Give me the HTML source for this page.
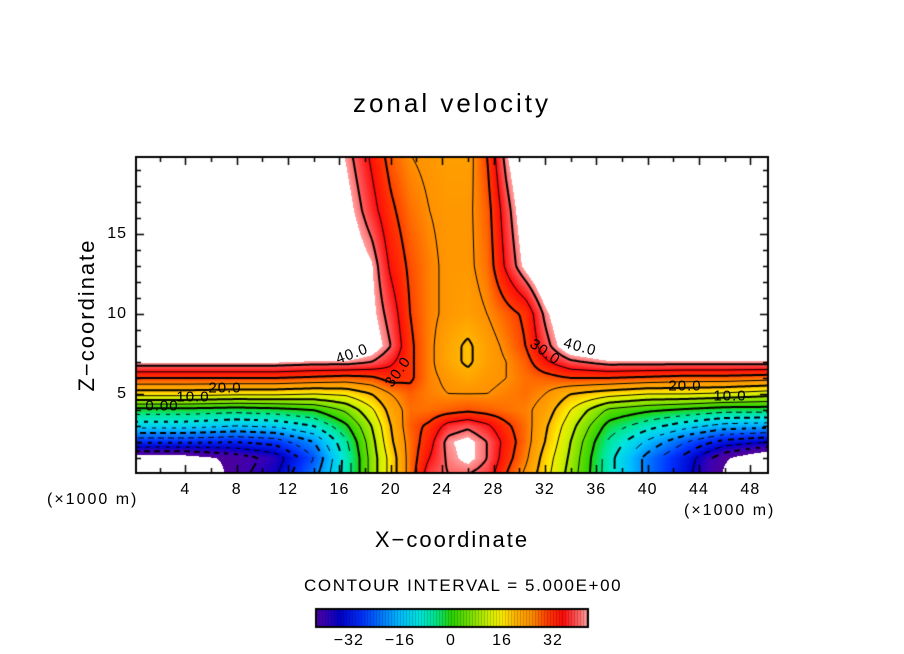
<!DOCTYPE html>
<html><head><meta charset="utf-8">
<style>
html,body{margin:0;padding:0;background:#fff;}
body{width:904px;height:654px;position:relative;overflow:hidden;font-family:"Liberation Sans",sans-serif;}
canvas{position:absolute;left:0;top:0;}
.t{position:absolute;color:#000;white-space:nowrap;}
</style></head>
<body>
<canvas id="cv" width="904" height="654"></canvas>
<div class="t" style="left:0;width:904px;text-align:center;top:88px;font-size:26px;letter-spacing:3px;">zonal velocity</div>
<div class="t" style="left:0;width:904px;text-align:center;top:527px;font-size:22px;letter-spacing:2px;">X−coordinate</div>
<div class="t" style="left:-14px;top:303px;width:200px;text-align:center;font-size:22px;letter-spacing:2px;transform:rotate(-90deg);transform-origin:100px 12px;">Z−coordinate</div>
<div class="t" style="left:47px;top:491px;font-size:16px;letter-spacing:2px;">(×1000 m)</div>
<div class="t" style="left:684px;top:502px;font-size:16px;letter-spacing:2px;">(×1000 m)</div>
<div class="t" style="left:304px;top:576px;font-size:17px;letter-spacing:1.6px;">CONTOUR INTERVAL = 5.000E+00</div>
<div id="labels"></div>
<script>
// ---- data ----
const xNodes = [0, 4, 8, 11, 14, 16.5, 18.5, 20, 21.5, 23, 24.5, 26, 27.5, 29, 30.5, 32, 34, 37, 40, 43, 46, 49.5];
const zNodes = [0, 1, 2, 3, 4, 5, 6, 7, 8, 10, 13, 16.5, 20];
const uZ0  = [-55,-55,-42,-36,-22,-8, 7,17,27,38,40,40,38,30,24,17, 8,-8,-22,-33,-46,-60];
const uZ1  = [-48,-48,-43,-38,-25,-8, 7,17,27,35,41,44,40,32,26,18, 9,-8,-22,-32,-44,-52];
const uZ2  = [-29,-29,-30,-28,-20,-6, 8,19,27,33,42,44,40,33,27,20,10,-6,-16,-25,-32,-35];
const uZ3  = [-13,-13,-15,-14,-10,-1,10,20,28,31,37,39,36,31,27,21,12,-2,-8,-13,-17,-18];
const uZ4  = [-2,-2,-3,-2,0,6,14,22,27,27,28,29,28,27,26,23,15,4,1,-1,-3,-3];
const uZ5  = [17,17,16,16,15,16,20,25,28,26,25,25,25,26,27,25,20,17,15,15,14,12];
const uZ6  = [30,30,30,30,29,28,29,32,31,26,24,22,24,25,27,28,30,30,29,28,28,27];
const uZ7  = [43,43,43,43,42,42,40,36,31,26,22,19,23,25,28,34,39,42,42,42,42,42];
const uZ8  = [50,50,50,50,50,50,46,40,31,26,22,19,23,26,30,38,47,50,50,50,50,50];
const uZ10 = [50,50,50,50,50,50,44,38,30,26,24,23,25,28,31,41,50,50,50,50,50,50];
const uZ13 = [50,50,50,50,50,48,43,34,29,26,24,24,27,36,44,50,50,50,50,50,50,50];
const uZ16 = [50,50,50,50,50,45,37,31,27,25,24,24,28,38,47,50,50,50,50,50,50,50];
const uZ20 = [50,50,50,50,50,42,34,28,25,24,23,23,30,42,50,50,50,50,50,50,50,50];
const rows = [uZ0,uZ1,uZ2,uZ3,uZ4,uZ5,uZ6,uZ7,uZ8,uZ10,uZ13,uZ16,uZ20];
const xTicks = [4,8,12,16,20,24,28,32,36,40,44,48];
const zTicks = [5,10,15];
const cbTicks = [-32,-16,0,16,32];
const levels = [-40,-35,-30,-25,-20,-15,-10,-5,0,5,10,15,20,25,30,35,40];

// ---- axes ----
const PL=136, PR=768, PT=157, PB=473;
const X0=134, SX=12.84;
const VMIN=-45, VMAX=42.5;
function xp(x){return X0+SX*x;}
function zp(z){return 474-16*z;}
function xv(px){return (px-X0)/SX;}
function zv(py){return (474-py)/16;}

function seg(arr,v){let i=0;while(i<arr.length-2&&v>arr[i+1])i++;let t=(v-arr[i])/(arr[i+1]-arr[i]);t=Math.max(0,Math.min(1,t));return [i,t];}
function field(x,z){
  const si=seg(xNodes,x),sj=seg(zNodes,z);
  const i=si[0],tx=si[1],j=sj[0],tz=sj[1];
  const a=rows[j][i],b=rows[j][i+1],c=rows[j+1][i],d=rows[j+1][i+1];
  return (a*(1-tx)+b*tx)*(1-tz)+(c*(1-tx)+d*tx)*tz;
}
const stops=[[-45,[80,0,150]],[-40,[60,0,180]],[-35,[0,0,200]],[-28,[0,50,255]],[-22,[0,120,255]],[-16,[0,190,255]],[-10,[0,230,220]],[-5,[0,230,140]],[0,[40,210,0]],[6,[120,225,0]],[12,[210,240,0]],[16,[255,235,0]],[20,[255,180,0]],[25,[255,145,0]],[30,[255,60,0]],[35,[255,10,10]],[40,[255,100,100]],[42.5,[255,160,160]]];
function col(v){
  if(v<VMIN||v>VMAX)return [255,255,255];
  for(let k=0;k<stops.length-1;k++){const a=stops[k][0],ca=stops[k][1],b=stops[k+1][0],cb=stops[k+1][1];
    if(v<=b){const t=(v-a)/(b-a);return [0,1,2].map(q=>Math.round(ca[q]+(cb[q]-ca[q])*t));}}
  return stops[stops.length-1][1];
}
const cv=document.getElementById('cv'),ctx=cv.getContext('2d');
const W=PR-PL,H=PB-PT;
const img=ctx.createImageData(W,H);
for(let py=0;py<H;py++)for(let px=0;px<W;px++){
  const c=col(field(xv(PL+px+0.5),zv(PT+py+0.5)));const o=(py*W+px)*4;
  img.data[o]=c[0];img.data[o+1]=c[1];img.data[o+2]=c[2];img.data[o+3]=255;}
ctx.putImageData(img,PL,PT);

// contours by marching squares
const G=2,nx=Math.ceil(W/G)+1,ny=Math.ceil(H/G)+1;
const F=[];for(let j=0;j<ny;j++){F.push([]);for(let i=0;i<nx;i++)F[j].push(field(xv(PL+i*G),zv(PT+j*G)));}
ctx.save();ctx.beginPath();ctx.rect(PL,PT,W,H);ctx.clip();
ctx.strokeStyle='#000';
levels.forEach(function(L){
  ctx.lineWidth=(L%10===0)?2:1;
  ctx.beginPath();
  for(let j=0;j<ny-1;j++){for(let i=0;i<nx-1;i++){
    const v=[F[j][i],F[j][i+1],F[j+1][i+1],F[j+1][i]];
    const p=[[i,j],[i+1,j],[i+1,j+1],[i,j+1]];
    const pts=[];
    for(let e=0;e<4;e++){const a=v[e],b=v[(e+1)%4];
      if((a<L)!==(b<L)){const t=(L-a)/(b-a);const pa=p[e],pb=p[(e+1)%4];
        pts.push([PL+(pa[0]+(pb[0]-pa[0])*t)*G,PT+(pa[1]+(pb[1]-pa[1])*t)*G]);}}
    for(let k=0;k+1<pts.length;k+=2){
      const mx=(pts[k][0]+pts[k+1][0])/2,my=(pts[k][1]+pts[k+1][1])/2;
      if(L<0&&Math.floor((mx+my*0.3)/5)%2===1)continue;
      ctx.moveTo(pts[k][0],pts[k][1]);ctx.lineTo(pts[k+1][0],pts[k+1][1]);}
  }}
  ctx.stroke();
});
ctx.restore();

// frame & ticks
ctx.strokeStyle='#000';ctx.lineWidth=2;ctx.strokeRect(PL,PT,W,H);
ctx.lineWidth=1.5;ctx.beginPath();
for(let x=2;x<=49;x+=2){const X=Math.round(xp(x))+0.5;const len=(x%4===0)?8:5;
  ctx.moveTo(X,PB);ctx.lineTo(X,PB-len);ctx.moveTo(X,PT);ctx.lineTo(X,PT+len);}
for(let z=1;z<=19;z++){const Y=Math.round(zp(z))+0.5;const len=(z%5===0)?8:5;
  ctx.moveTo(PL,Y);ctx.lineTo(PL+len,Y);ctx.moveTo(PR,Y);ctx.lineTo(PR-len,Y);}
ctx.stroke();

// colorbar
const CL=316,CR=588,CT=609,CB=627;
for(let px=CL;px<CR;px++){const v=-42.3+(px-CL)/3.19;const c=col(Math.max(VMIN+0.1,Math.min(VMAX-0.1,v)));
  const dark=((px-CL)%3===0)?0.8:1;
  ctx.fillStyle='rgb('+Math.round(c[0]*dark)+','+Math.round(c[1]*dark)+','+Math.round(c[2]*dark)+')';ctx.fillRect(px,CT,1,CB-CT);}
ctx.lineWidth=2;ctx.strokeRect(CL,CT,CR-CL,CB-CT);

// labels
const lab=document.getElementById('labels');
function addText(txt,x,y,size,name,rot){
  const d=document.createElement('div');d.className='t';d.textContent=txt;
  
  
  d.style.left=x+'px';d.style.top=y+'px';d.style.fontSize=size+'px';d.style.letterSpacing='1px';
  d.style.transform='translate(-50%,-50%)'+(rot?' rotate('+rot+'deg)':'');
  lab.appendChild(d);
  return d;
}
xTicks.forEach(t=>addText(String(t),xp(t),490,16,'x-tick-label'));
zTicks.forEach(t=>{const d=addText(String(t),0,zp(t),16,'z-tick-label');d.style.left='';d.style.right=(904-127)+'px';d.style.transform='translateY(-50%)';});
cbTicks.forEach(t=>addText(t<0?'−'+(-t):String(t),CL+(t+42.3)*3.19,641,16,'colorbar-tick-label'));
const cl=[["40.0",352,354,-20],["30.0",398,372,-55],["20.0",225,388,0],["10.0",193,397,0],["0.00",162,406,0],["30.0",545,352,35],["40.0",580,347,15],["20.0",685,386,0],["10.0",730,396,0]];
cl.forEach(c=>addText(c[0],c[1],c[2],15,'contour-label',c[3]));
</script>
</body></html>
